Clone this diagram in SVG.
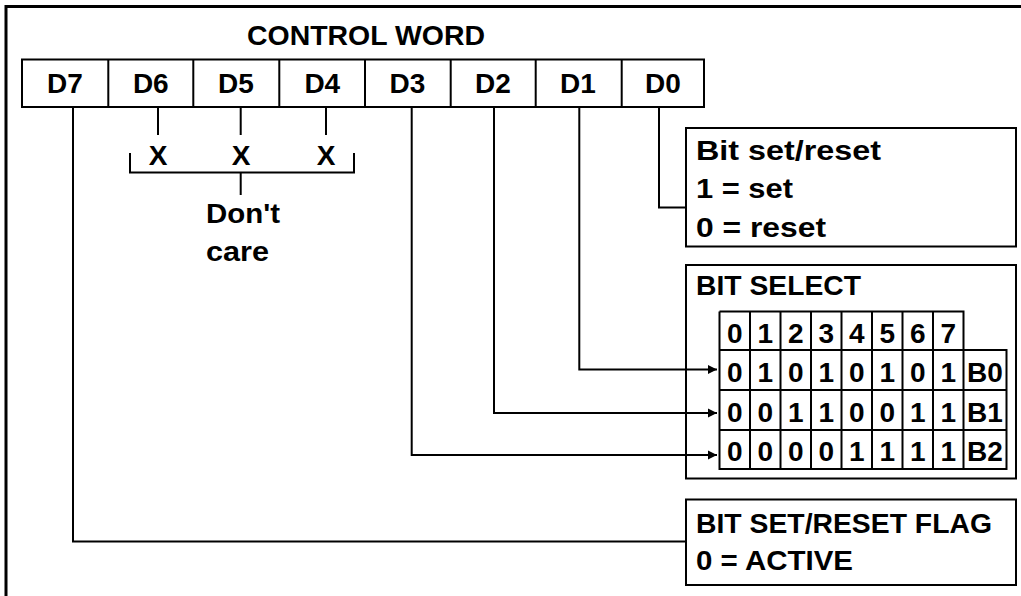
<svg xmlns="http://www.w3.org/2000/svg" width="1021" height="596" viewBox="0 0 1021 596">
<style>
text{font-family:"Liberation Sans",Arial,sans-serif;font-weight:bold;font-size:28px;fill:#000}
.c{text-anchor:middle}
.ln{fill:none;stroke:#000;stroke-width:2}
.box{fill:#fff;stroke:#000;stroke-width:2}
</style>
<defs>
<marker id="arr" markerUnits="userSpaceOnUse" markerWidth="10" markerHeight="10" refX="9" refY="5" orient="auto">
<path d="M0,0.5 L9,5 L0,9.5 z" fill="#000"/>
</marker>
</defs>
<rect width="1021" height="596" fill="#fff"/>
<path d="M6,596 V6.5 H1021" fill="none" stroke="#000" stroke-width="3"/>

<g id="control-word">
<text x="366" y="45" class="c" textLength="238" lengthAdjust="spacingAndGlyphs">CONTROL WORD</text>
<rect class="box" x="22" y="59.5" width="682" height="47.5"/>
<path class="ln" d="M108.3,59.5V107M193.3,59.5V107M279.3,59.5V107M365,59.5V107M450.7,59.5V107M535.7,59.5V107M621.7,59.5V107"/>
<text x="65" y="93.3" class="c">D7</text>
<text x="150.8" y="93.3" class="c">D6</text>
<text x="236" y="93.3" class="c">D5</text>
<text x="322.3" y="93.3" class="c">D4</text>
<text x="407.5" y="93.3" class="c">D3</text>
<text x="493" y="93.3" class="c">D2</text>
<text x="578" y="93.3" class="c">D1</text>
<text x="663" y="93.3" class="c">D0</text>
</g>

<g id="dont-care">
<text x="158" y="165" class="c">X</text>
<text x="241" y="165" class="c">X</text>
<text x="326" y="165" class="c">X</text>
<text x="206" y="222.5" textLength="74" lengthAdjust="spacingAndGlyphs">Don't</text>
<text x="206" y="260.5" textLength="63" lengthAdjust="spacingAndGlyphs">care</text>
</g>

<g id="bit-set-reset">
<rect class="box" x="686" y="128" width="330" height="118.5"/>
<text x="696" y="160" textLength="185" lengthAdjust="spacingAndGlyphs">Bit set/reset</text>
<text x="696" y="198.3" textLength="97" lengthAdjust="spacingAndGlyphs">1 = set</text>
<text x="696" y="236.7" textLength="130" lengthAdjust="spacingAndGlyphs">0 = reset</text>
</g>

<g id="bit-select">
<rect class="box" x="686" y="265" width="330" height="213.5"/>
<text x="696" y="295" textLength="165" lengthAdjust="spacingAndGlyphs">BIT SELECT</text>
<path class="ln" d="M719.5,311.5H963.5V350M719.5,311.5V469H1006.5V350H719.5M719.5,390H1006.5M719.5,430H1006.5M750,311.5V469M780.5,311.5V469M811,311.5V469M841.5,311.5V469M872,311.5V469M902.5,311.5V469M933,311.5V469M963.5,350V469"/>
<g class="c">
<text x="734.8" y="343">0</text><text x="765.3" y="343">1</text><text x="795.8" y="343">2</text><text x="826.3" y="343">3</text><text x="856.8" y="343">4</text><text x="887.3" y="343">5</text><text x="917.8" y="343">6</text><text x="948.3" y="343">7</text>
<text x="734.8" y="382">0</text><text x="765.3" y="382">1</text><text x="795.8" y="382">0</text><text x="826.3" y="382">1</text><text x="856.8" y="382">0</text><text x="887.3" y="382">1</text><text x="917.8" y="382">0</text><text x="948.3" y="382">1</text><text x="985" y="382">B0</text>
<text x="734.8" y="422">0</text><text x="765.3" y="422">0</text><text x="795.8" y="422">1</text><text x="826.3" y="422">1</text><text x="856.8" y="422">0</text><text x="887.3" y="422">0</text><text x="917.8" y="422">1</text><text x="948.3" y="422">1</text><text x="985" y="422">B1</text>
<text x="734.8" y="461">0</text><text x="765.3" y="461">0</text><text x="795.8" y="461">0</text><text x="826.3" y="461">0</text><text x="856.8" y="461">1</text><text x="887.3" y="461">1</text><text x="917.8" y="461">1</text><text x="948.3" y="461">1</text><text x="985" y="461">B2</text>
</g>
</g>

<g id="flag">
<rect class="box" x="686" y="499.5" width="330" height="85.5"/>
<text x="696" y="533" textLength="296" lengthAdjust="spacingAndGlyphs">BIT SET/RESET FLAG</text>
<text x="696" y="570" textLength="157" lengthAdjust="spacingAndGlyphs">0 = ACTIVE</text>
</g>

<g id="connectors">
<path class="ln" d="M158,107V135M240.7,107V135M326,107V135"/>
<path class="ln" d="M130,153V172.5H354V153M240.7,172.5V195"/>
<path class="ln" d="M659,107V207.5H686"/>
<path class="ln" d="M579.3,107V369.5H717" marker-end="url(#arr)"/>
<path class="ln" d="M494,107V413H717" marker-end="url(#arr)"/>
<path class="ln" d="M411.7,107V455H717" marker-end="url(#arr)"/>
<path class="ln" d="M73,107V541.5H686"/>
</g>
</svg>
